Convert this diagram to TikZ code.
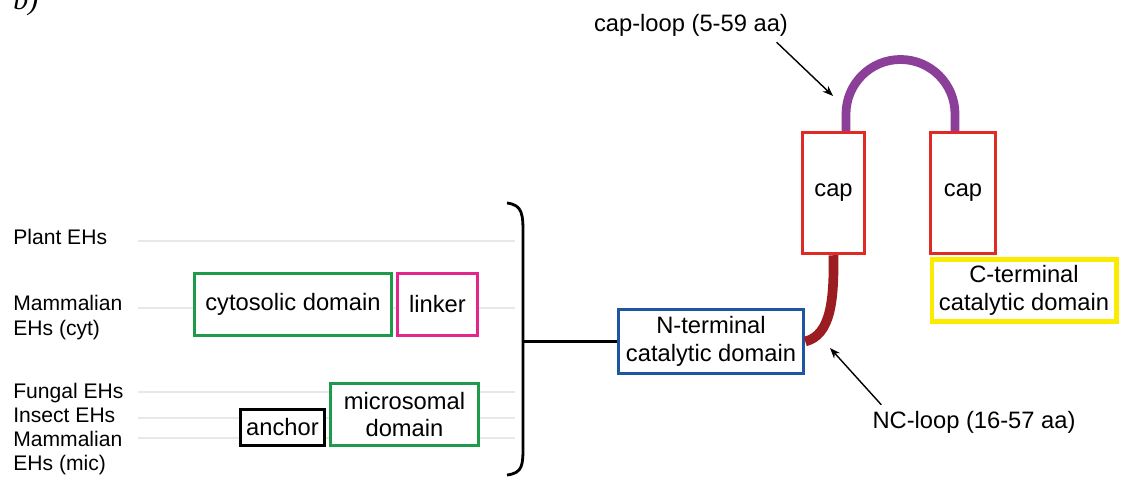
\documentclass[tikz,border=0pt]{standalone}
\usepackage{fontspec}
\setmainfont{Liberation Sans}
\newfontfamily\panelfont{Liberation Serif}
\usetikzlibrary{arrows.meta}
\definecolor{domgreen}{HTML}{1E9A4B}
\definecolor{linkpink}{HTML}{E3258C}
\definecolor{ntblue}{HTML}{1F56A3}
\definecolor{capred}{HTML}{E02A26}
\definecolor{ctyellow}{HTML}{FAEB00}
\definecolor{looppurple}{HTML}{8B3F98}
\definecolor{ncred}{HTML}{9B1D22}
\definecolor{rulegray}{HTML}{E8E8E8}
\newcommand{\lblfont}{\fontsize{13.5}{15.6}\selectfont}
\newcommand{\sidefont}{\fontsize{12}{13.8}\selectfont}

\begin{document}
\begin{tikzpicture}[x=0.02cm,y=-0.02cm,
  dombox/.style={draw,line width=2pt,fill=white,inner sep=0pt,align=center,font=\lblfont},
  species/.style={anchor=west,inner sep=0pt,align=left,font=\sidefont},
  rule/.style={draw=rulegray,line width=.6pt},
  ptr/.style={-{Stealth[length=6pt,width=4.5pt]},line width=.8pt}]
\useasboundingbox (0,0) rectangle (1125,479);
\node[anchor=base west,inner sep=0pt,font=\panelfont\itshape\fontsize{17}{17}\selectfont] (panel) at (13,10) {b)};
\foreach \y in {241,308,392,418,438} \draw[rule] (138,\y) -- (515,\y);
\node[species] (plant) at (13,237) {Plant EHs};
\node[species] (mamcyt) at (13,317.5) {Mammalian\\EHs (cyt)};
\node[species] (micgroup) at (13,429) {Fungal EHs\\Insect EHs\\Mammalian\\EHs (mic)};
\node[dombox,draw=domgreen,minimum width=3.94cm,minimum height=1.24cm] (cytosolic) at (293,304.5) {cytosolic domain};
\node[dombox,draw=linkpink,minimum width=1.6cm,minimum height=1.24cm] (linker) at (437.5,304.5) {linker};
\node[dombox,draw=domgreen,minimum width=2.96cm,minimum height=1.24cm] (microsomal) at (404.5,414.5) {microsomal\\domain};
\node[dombox,draw=black,minimum width=1.68cm,minimum height=0.72cm] (anchor) at (282.5,427.5) {anchor};
\draw[line width=1.6pt] (507,203) .. controls (523,205) and (523,215) .. (523,235) -- (523,445) .. controls (523,465) and (523,473) .. (507,475);
\coordinate (brk) at (523,341.5);
\node[dombox,draw=ntblue,minimum width=3.7cm,minimum height=1.28cm] (nterm) at (711,341.5) {N-terminal\\catalytic domain};
\draw[line width=1.4pt] (brk) -- (nterm.west);
\node[dombox,draw=capred,minimum width=1.24cm,minimum height=2.42cm] (capl) at (833.5,193) {cap};
\node[dombox,draw=capred,minimum width=1.3cm,minimum height=2.42cm] (capr) at (963,193) {cap};
\node[dombox,draw=ctyellow,line width=2.3pt,minimum width=3.7cm,minimum height=1.24cm] (cterm) at (1024,290.5) {C-terminal\\catalytic domain};
\draw[looppurple,line width=5pt] (capl.north -| 846,0) -- (846,114) arc[start angle=180,end angle=360,radius=54.5] -- (capr.north -| 955,0);
\draw[ncred,line width=5.5pt] (capl.south) .. controls (834,300) and (831,335) .. (nterm.east);
\node[font=\lblfont] (caploop) at (691,25) {cap-loop (5-59 aa)};
\node[font=\lblfont] (ncloop) at (974,422) {NC-loop (16-57 aa)};
\coordinate (captip) at (833,96);\coordinate (nctip) at (830,348);
\draw[ptr] ([xshift=-0.35cm]caploop.south east) -- (captip);
\draw[ptr] ([xshift=0.3cm]ncloop.north west) -- (nctip);
\end{tikzpicture}
\end{document}
